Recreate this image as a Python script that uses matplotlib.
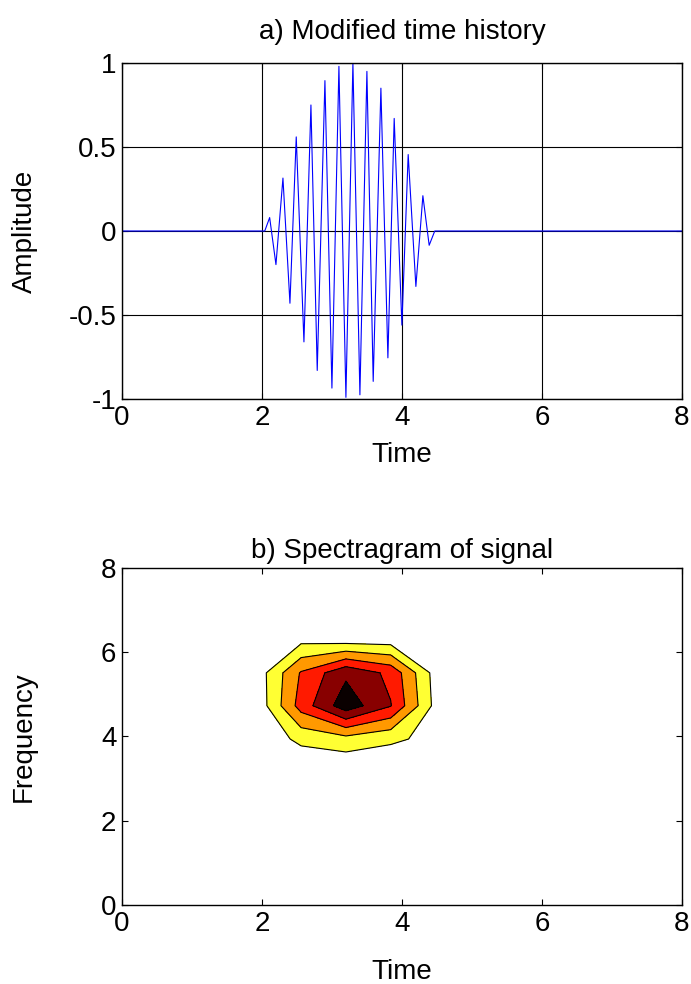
## Module imports
import numpy as np
import matplotlib
matplotlib.use('Agg')
import matplotlib.pyplot as plt

## Data
# a) time history: turning points of the burst (s, amplitude)
wave_time = [0.0, 2.04, 2.11, 2.20, 2.30, 2.40, 2.49, 2.60, 2.70, 2.79,
             2.90, 3.00, 3.10, 3.20, 3.30, 3.40, 3.50, 3.59, 3.70, 3.80,
             3.89, 4.00, 4.09, 4.20, 4.30, 4.39, 4.47, 8.0]
wave_amp = [0.0, 0.0, 0.08, -0.20, 0.315, -0.43, 0.56, -0.66, 0.75, -0.83,
            0.895, -0.935, 0.98, -0.99, 1.0, -0.975, 0.95, -0.895, 0.85, -0.755,
            0.67, -0.56, 0.455, -0.33, 0.21, -0.085, 0.0, 0.0]

# b) spectrogram grid near the burst (everything else is below the first level)
spec_time = [1.28, 1.92, 2.56, 3.2, 3.84, 4.48, 5.12]
spec_freq = [2.36, 3.15, 3.94, 4.73, 5.51, 6.30, 7.09]
# rows = frequency, columns = time
spec_power = [
    [0.0, 0.0, 0.0,  0.0,  0.0,  0.0, 0.0],
    [0.0, 0.0, 0.0,  0.0,  0.0,  0.0, 0.0],
    [0.0, 0.2, 1.26, 1.64, 1.2,  0.7, 0.0],
    [0.0, 0.25, 3.43, 5.6, 4.05, 0.7, 0.0],
    [0.0, 0.4, 3.1,  4.8,  3.75, 0.6, 0.0],
    [0.0, 0.1, 0.7,  0.5,  0.5,  0.1, 0.0],
    [0.0, 0.0, 0.0,  0.0,  0.0,  0.0, 0.0],
]
spec_levels = [1, 2, 3, 4, 5, 6]
# flipped "hot" colours, low -> high
spec_colors = ['#FFFF33', '#FF9900', '#FF1A00', '#880000', '#0A0000']

## Style
plt.rcParams['font.family'] = ['Liberation Sans', 'DejaVu Sans']
plt.rcParams['font.size'] = 20
plt.rcParams['axes.unicode_minus'] = False

fig = plt.figure(figsize=[6.91, 9.84], dpi=100)
ax1 = fig.add_axes([0.1766, 0.5945, 0.810, 0.3415])
ax2 = fig.add_axes([0.1766, 0.0803, 0.810, 0.3425])

def matlab_axes(ax):
    ax.tick_params(direction='in', top=True, right=True, length=4,
                   width=0.8, pad=4, labelsize=20)
    for sp in ax.spines.values():
        sp.set_linewidth(1.0)
        sp.set_color('black')

## a) Modified time history
ax1.plot(wave_time, wave_amp, color='#0000FF', linewidth=0.8)
ax1.set_xlim(0, 8)
ax1.set_ylim(-1, 1)
ax1.set_xticks([0, 2, 4, 6, 8])
ax1.set_yticks([-1, -0.5, 0, 0.5, 1])
ax1.set_yticklabels(['-1', '-0.5', '0', '0.5', '1'])
ax1.grid(True, color='black', linewidth=0.8, linestyle='-')
ax1.set_axisbelow(True)
ax1.set_title('a) Modified time history', fontsize=20, pad=17)
ax1.set_xlabel('Time', labelpad=8)
ax1.set_ylabel('Amplitude', labelpad=22)
matlab_axes(ax1)

## b) Spectragram of signal
T, F = np.meshgrid(spec_time, spec_freq)
Z = np.array(spec_power)
ax2.contourf(T, F, Z, levels=spec_levels, colors=spec_colors)
ax2.contour(T, F, Z, levels=spec_levels[:-1], colors='black', linewidths=0.8)
ax2.set_xlim(0, 8)
ax2.set_ylim(0, 8)
ax2.set_xticks([0, 2, 4, 6, 8])
ax2.set_yticks([0, 2, 4, 6, 8])
ax2.set_title('b) Spectragram of signal', fontsize=20, pad=7)
ax2.set_xlabel('Time', labelpad=16)
ax2.set_ylabel('Frequency', labelpad=46)
matlab_axes(ax2)

fig.savefig('out.png', dpi=100)
